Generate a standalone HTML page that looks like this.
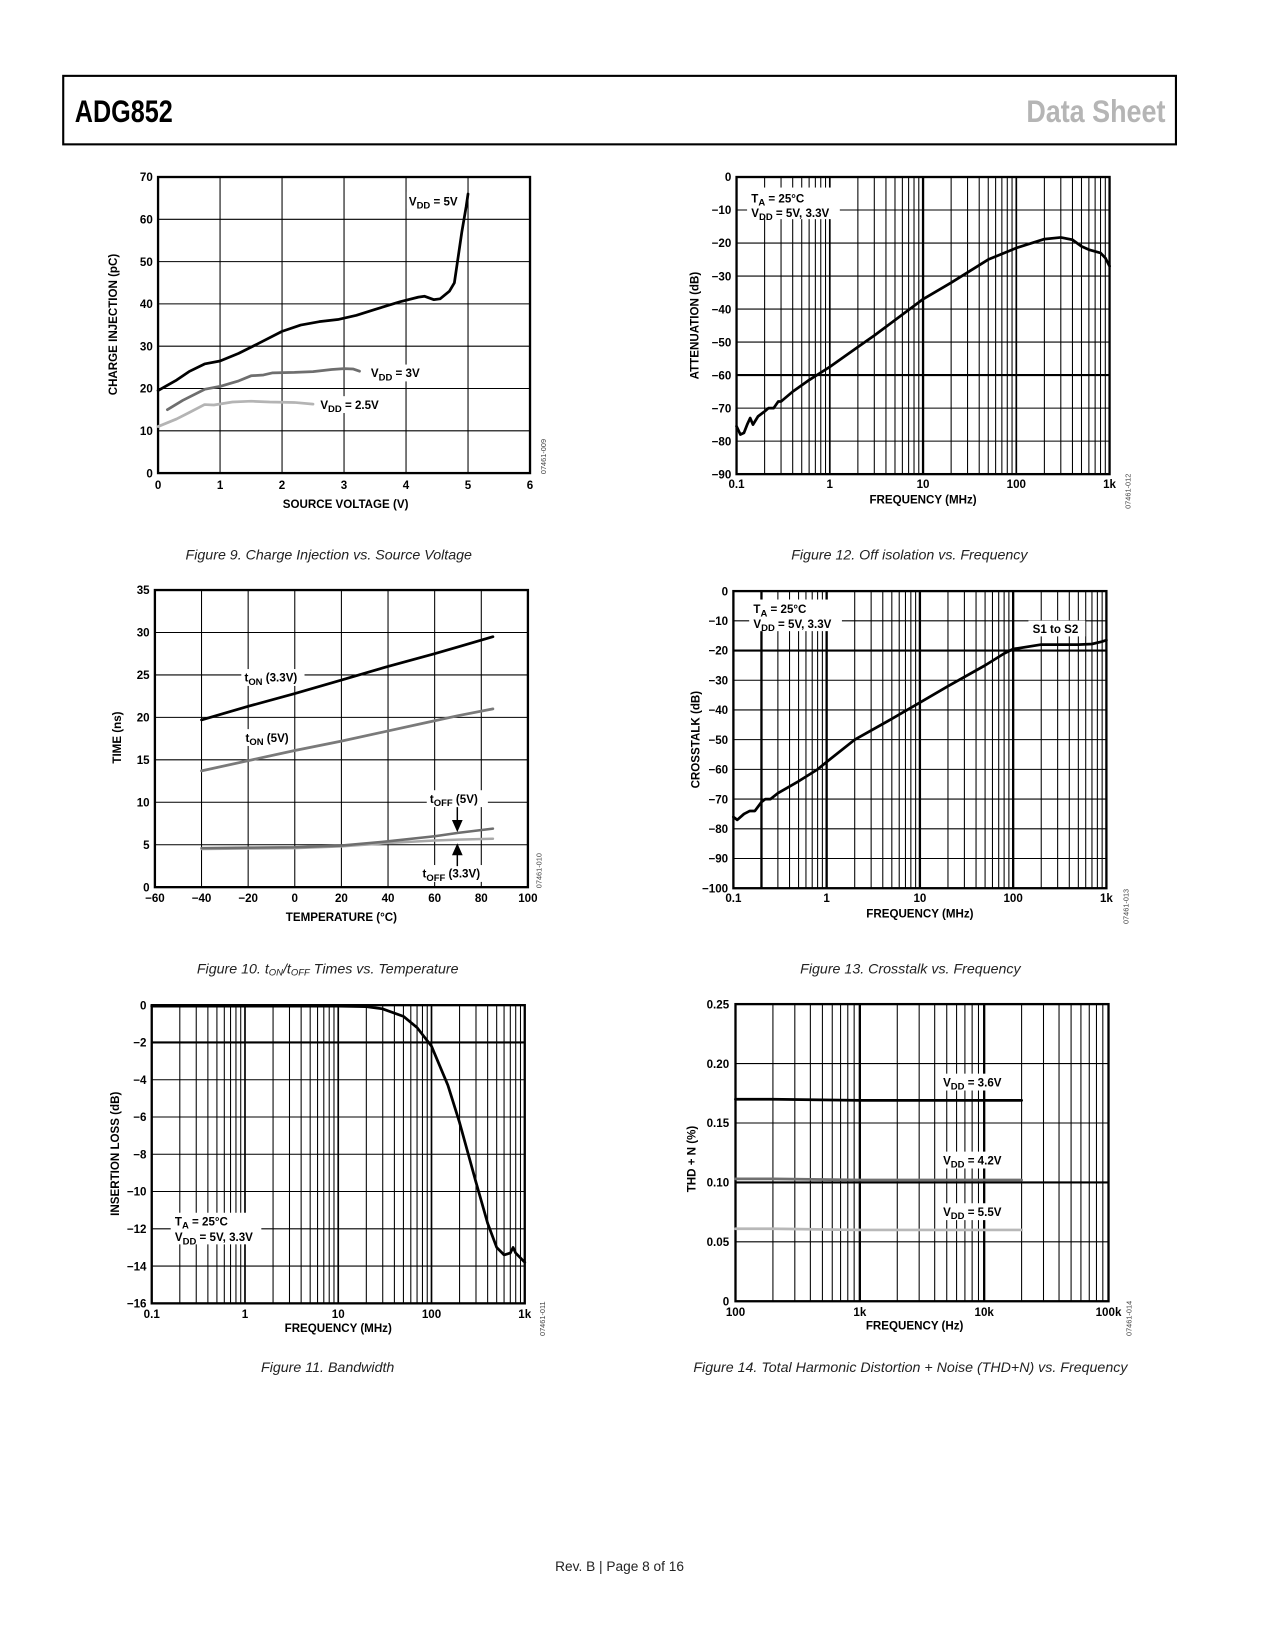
<!DOCTYPE html>
<html><head><meta charset="utf-8"><style>
html,body{margin:0;padding:0;background:#fff;}
svg{display:block;}
text{font-family:"Liberation Sans",Arial,sans-serif;}
.t{font-size:11px;font-weight:bold;fill:#000;}
.cap{font-size:13.5px;font-style:italic;fill:#222;}
.id{font-size:7px;fill:#444;}
</style></head><body>
<svg id="page" width="1275" height="1650" viewBox="0 0 1210 1566" preserveAspectRatio="none" xmlns="http://www.w3.org/2000/svg">
<rect x="0" y="0" width="1210" height="1566" fill="#fff"/>
<rect x="60" y="72" width="1056" height="65" fill="none" stroke="#000" stroke-width="2"/>
<text x="71" y="116" font-size="30" font-weight="bold" textLength="93" lengthAdjust="spacingAndGlyphs">ADG852</text>
<text x="1106" y="116" font-size="30" font-weight="bold" fill="#b5b5b5" text-anchor="end" textLength="132" lengthAdjust="spacingAndGlyphs">Data Sheet</text>
<g id="charts"></g>
<text class="cap" x="312" y="531" text-anchor="middle">Figure 9. Charge Injection vs. Source Voltage</text>
<text class="cap" x="311" y="924" text-anchor="middle">Figure 10. t<tspan font-size="9" dy="2">ON</tspan><tspan dy="-2">/t</tspan><tspan font-size="9" dy="2">OFF</tspan><tspan dy="-2"> Times vs. Temperature</tspan></text>
<text class="cap" x="311" y="1302" text-anchor="middle">Figure 11. Bandwidth</text>
<text class="cap" x="863" y="531" text-anchor="middle">Figure 12. Off isolation vs. Frequency</text>
<text class="cap" x="864" y="924" text-anchor="middle">Figure 13. Crosstalk vs. Frequency</text>
<text class="cap" x="864" y="1302" text-anchor="middle">Figure 14. Total Harmonic Distortion + Noise (THD+N) vs. Frequency</text>
<text x="588" y="1491" font-size="13" fill="#222" text-anchor="middle">Rev. B | Page 8 of 16</text>
</svg>
<script>
// ---------- Figure 9 data ----------
const f9XTicks = [0,1,2,3,4,5,6];
const f9YTicks = [0,10,20,30,40,50,60,70];
const f9V5x = [0,0.3,0.5,0.75,1,1.3,1.6,2,2.3,2.6,2.9,3.2,3.5,3.9,4.2,4.3,4.45,4.55,4.7,4.78,4.83,4.9,4.97,5.0];
const f9V5y = [19.5,22,24,25.8,26.5,28.3,30.5,33.5,35,35.8,36.3,37.3,38.7,40.5,41.6,41.8,41,41.2,43,45,50,57,63,66];
const f9V3x = [0.15,0.4,0.75,1,1.3,1.5,1.7,1.85,2.2,2.5,2.8,3.0,3.15,3.25];
const f9V3y = [15,17.2,19.8,20.5,21.8,23,23.2,23.7,23.8,24,24.5,24.7,24.6,24.1];
const f9V25x = [0,0.3,0.5,0.75,0.9,1.2,1.5,1.8,2.2,2.5];
const f9V25y = [11,12.8,14.3,16.2,16.1,16.8,17,16.8,16.7,16.3];
// ---------- Figure 10 data ----------
const f10XTicks = [-60,-40,-20,0,20,40,60,80,100];
const f10YTicks = [0,5,10,15,20,25,30,35];
const f10Temp = [-40,-20,0,20,40,60,70,85];
const f10TonV33 = [19.7,21.3,22.8,24.4,26,27.5,28.3,29.5];
const f10TonV5 = [13.7,14.9,16.1,17.2,18.4,19.6,20.2,21];
const f10ToffV5 = [4.6,4.65,4.7,4.9,5.4,6,6.4,6.9];
const f10ToffV33 = [4.5,4.55,4.6,4.8,5.2,5.5,5.6,5.7];
// ---------- Figure 11 data ----------
const f11XTicks = [0.1,1,10,100,1000];
const f11XLabels = ["0.1","1","10","100","1k"];
const f11YTicks = [0,-2,-4,-6,-8,-10,-12,-14,-16];
const f11Freq = [0.1,1,10,20,30,50,70,100,150,200,300,400,500,600,700,750,800,1000];
const f11Loss = [-0.05,-0.05,-0.05,-0.08,-0.2,-0.6,-1.2,-2.2,-4.3,-6.3,-9.5,-11.7,-13.0,-13.4,-13.3,-13.0,-13.3,-13.8];
// ---------- Figure 12 data ----------
const f12YTicks = [0,-10,-20,-30,-40,-50,-60,-70,-80,-90];
const f12Freq = [0.1,0.11,0.12,0.13,0.14,0.15,0.17,0.2,0.22,0.25,0.28,0.3,0.4,0.6,1,2,3,10,20,50,100,200,300,400,500,600,800,900,1000];
const f12Att = [-75.5,-78,-77.5,-75,-73,-75,-72.5,-71,-70,-70,-68,-68,-65,-61.5,-57.5,-51.5,-48,-37,-32,-25,-21.5,-18.8,-18.3,-19,-21,-22,-23,-24.5,-27];
// ---------- Figure 13 data ----------
const f13YTicks = [0,-10,-20,-30,-40,-50,-60,-70,-80,-90,-100];
const f13Freq = [0.1,0.11,0.13,0.15,0.17,0.2,0.22,0.25,0.3,0.5,0.8,1,2,5,10,20,50,80,100,200,500,700,900,1000];
const f13Xt = [-76,-77,-75,-74,-74,-71,-70,-70,-68,-64,-60,-57.5,-50,-43,-37.5,-32,-25,-21,-19.5,-18,-18,-17.8,-17,-16.5];
// ---------- Figure 14 data ----------
const f14XTicks = [100,1000,10000,100000];
const f14XLabels = ["100","1k","10k","100k"];
const f14YTicks = [0,0.05,0.10,0.15,0.20,0.25];
const f14YLabels = ["0","0.05","0.10","0.15","0.20","0.25"];
const f14Freq = [100,200,1000,5000,20000];
const f14V36 = [0.170,0.170,0.169,0.169,0.169];
const f14V42 = [0.103,0.103,0.102,0.102,0.102];
const f14V55 = [0.061,0.061,0.060,0.060,0.060];

const NS = "http://www.w3.org/2000/svg";
const root = document.getElementById('charts');
function el(tag, attrs, parent){
  const e = document.createElementNS(NS, tag);
  for (const k in attrs) e.setAttribute(k, attrs[k]);
  (parent||root).appendChild(e);
  return e;
}
function linScale(d0,d1,r0,r1){return v=>r0+(v-d0)/(d1-d0)*(r1-r0);}
function logScale(d0,d1,r0,r1){const a=Math.log10(d0),b=Math.log10(d1);return v=>r0+(Math.log10(v)-a)/(b-a)*(r1-r0);}

function frame(g,L,T,R,B){
  const r = el('rect',{x:L,y:T,width:R-L,height:B-T,fill:'none',stroke:'#000','stroke-width':2.2},g);
  
  
}
function hline(g,x1,x2,y,w){
  const l = el('line',{x1:x1,x2:x2,y1:y,y2:y,stroke:'#000','stroke-width':w||1},g);
  
  
}
function vline(g,x,y1,y2,w){
  const l = el('line',{x1:x,x2:x,y1:y1,y2:y2,stroke:'#000','stroke-width':w||1},g);
  
  
}
function label(g,x,y,txt,anchor,name,cls){
  const t = el('text',{x:x,y:y,'text-anchor':anchor||'middle','class':cls||'t'},g);
  t.textContent = txt;
  
  
  return t;
}
function ytitle(g,x,y,txt){
  const t = el('text',{x:x,y:y,'text-anchor':'middle','class':'t',transform:'rotate(-90 '+x+' '+y+')'},g);
  t.textContent = txt;
  
  
}
function figId(g,x,y,txt){
  const t = el('text',{x:x,y:y,'text-anchor':'start','class':'id',transform:'rotate(-90 '+x+' '+y+')'},g);
  t.textContent = txt;
  
  
}
function series(g,xs,ys,sx,sy,color,w,name){
  const d = xs.map((v,i)=>(i?'L':'M')+sx(v).toFixed(2)+' '+sy(ys[i]).toFixed(2)).join(' ');
  const p = el('path',{d:d,fill:'none',stroke:color,'stroke-width':w||2.6,'stroke-linejoin':'round','stroke-linecap':'round'},g);
  
  
}
function logGrid(g,sx,d0,d1,T,B,heavy){
  for(let dec=d0; dec<d1; dec*=10){
    for(let m=2;m<=9;m++){const v=dec*m; vline(g,sx(v),T,B,(heavy&&heavy.indexOf(v)>=0)?2.2:1);}
    if(dec>d0) vline(g,sx(dec),T,B,(heavy&&heavy.indexOf(dec)>=0)?2.2:1.6);
  }
}
function sub(g,x,y,main,subs,rest,anchor,name,bg){
  const t = el('text',{x:x,y:y,'class':'t','text-anchor':anchor||'start'},g);
  
  
  const a = el('tspan',{},t); a.textContent = main;
  const b = el('tspan',{dy:3,'font-size':9},t); b.textContent = subs;
  const c = el('tspan',{dy:-3},t); c.textContent = rest;
  return t;
}
function whiteBox(g,x,y,w,h){
  const r = el('rect',{x:x,y:y,width:w,height:h,fill:'#fff'},g);
  
  
}

// ===== Figure 9 =====
(function(){
  const g = el('g',{});  
  const L=150,R=503,T=168,B=449;
  const sx=linScale(0,6,L,R), sy=linScale(0,70,B,T);
  f9XTicks.forEach(v=>{vline(g,sx(v),T,B); label(g,sx(v),464,String(v));});
  f9YTicks.forEach(v=>{hline(g,L,R,sy(v)); label(g,L-5,sy(v)+4,String(v),'end');});
  frame(g,L,T,R,B);
  whiteBox(g,386,182,56,16); whiteBox(g,350,346,58,16); whiteBox(g,302,376,62,16);
  series(g,f9V25x,f9V25y,sx,sy,'#b4b4b4',2.6,'series-vdd-2.5v');
  series(g,f9V3x,f9V3y,sx,sy,'#6e6e6e',2.6,'series-vdd-3v');
  series(g,f9V5x,f9V5y,sx,sy,'#000',2.6,'series-vdd-5v');
  sub(g,388,195,'V','DD',' = 5V','start','label-vdd-5v');
  sub(g,352,358,'V','DD',' = 3V','start','label-vdd-3v');
  sub(g,304,388,'V','DD',' = 2.5V','start','label-vdd-2.5v');
  label(g,328,482,'SOURCE VOLTAGE (V)','middle','x-axis-title');
  ytitle(g,111,308,'CHARGE INJECTION (pC)');
  figId(g,518,450,'07461-009');
})();

// ===== Figure 10 =====
(function(){
  const g = el('g',{});  
  const L=147,R=501,T=560,B=842;
  const sx=linScale(-60,100,L,R), sy=linScale(0,35,B,T);
  f10XTicks.forEach(v=>{vline(g,sx(v),T,B); label(g,sx(v),856,(v<0?'\u2212'+(-v):String(v)));});
  f10YTicks.forEach(v=>{hline(g,L,R,sy(v)); label(g,L-5,sy(v)+4,String(v),'end');});
  frame(g,L,T,R,B);
  whiteBox(g,229,635,60,16); whiteBox(g,230,692,48,16); whiteBox(g,405,750,58,16); whiteBox(g,398,821,64,16);
  series(g,f10Temp,f10ToffV33,sx,sy,'#a8a8a8',2.4,'series-toff-3.3v');
  series(g,f10Temp,f10ToffV5,sx,sy,'#6e6e6e',2.4,'series-toff-5v');
  series(g,f10Temp,f10TonV5,sx,sy,'#7a7a7a',2.6,'series-ton-5v');
  series(g,f10Temp,f10TonV33,sx,sy,'#000',2.6,'series-ton-3.3v');
  sub(g,232,647,'t','ON',' (3.3V)','start','label-ton-3.3v');
  sub(g,233,704,'t','ON',' (5V)','start','label-ton-5v');
  sub(g,408,762,'t','OFF',' (5V)','start','label-toff-5v');
  sub(g,401,833,'t','OFF',' (3.3V)','start','label-toff-3.3v');
  const a1 = el('path',{d:'M434 766 L434 784 M430 779 L434 788 L438 779 Z',stroke:'#000','stroke-width':1.4,fill:'#000'},g);
   
  const a2 = el('path',{d:'M434 822 L434 806 M430 811 L434 802 L438 811 Z',stroke:'#000','stroke-width':1.4,fill:'#000'},g);
   
  label(g,324,874,'TEMPERATURE (\u00B0C)','middle','x-axis-title');
  ytitle(g,115,700,'TIME (ns)');
  figId(g,514,843,'07461-010');
})();

// ===== Figure 11 =====
(function(){
  const g = el('g',{});  
  const L=144,R=498,T=954,B=1237;
  const sx=logScale(0.1,1000,L,R), sy=linScale(0,-16,T,B);
  logGrid(g,sx,0.1,1000,T,B,[]);
  f11YTicks.forEach(v=>{hline(g,L,R,sy(v),v===-2?2:1); label(g,L-5,sy(v)+4,(v<0?'\u2212'+(-v):String(v)),'end');});
  f11XTicks.forEach((v,i)=>label(g,sx(v),1251,f11XLabels[i]));
  frame(g,L,T,R,B);
  whiteBox(g,162,1151,86,30);
  series(g,f11Freq,f11Loss,sx,sy,'#000',2.6,'series-insertion-loss');
  sub(g,166,1163,'T','A',' = 25\u00B0C','start','annotation-ta');
  sub(g,166,1178,'V','DD',' = 5V, 3.3V','start','annotation-vdd');
  label(g,321,1264,'FREQUENCY (MHz)','middle','x-axis-title');
  ytitle(g,113,1095,'INSERTION LOSS (dB)');
  figId(g,517,1268,'07461-011');
})();

// ===== Figure 12 =====
(function(){
  const g = el('g',{});  
  const L=699,R=1053,T=168,B=450;
  const sx=logScale(0.1,1000,L,R), sy=linScale(0,-90,T,B);
  logGrid(g,sx,0.1,1000,T,B,[10]);
  f12YTicks.forEach(v=>{hline(g,L,R,sy(v),v===-60?2:1); label(g,L-5,sy(v)+4,(v<0?'\u2212'+(-v):String(v)),'end');});
  f11XTicks.forEach((v,i)=>label(g,sx(v),463,f11XLabels[i]));
  frame(g,L,T,R,B);
  whiteBox(g,709,178,88,30);
  series(g,f12Freq,f12Att,sx,sy,'#000',2.6,'series-off-isolation');
  sub(g,713,192,'T','A',' = 25\u00B0C','start','annotation-ta');
  sub(g,713,206,'V','DD',' = 5V, 3.3V','start','annotation-vdd');
  label(g,876,478,'FREQUENCY (MHz)','middle','x-axis-title');
  ytitle(g,663,309,'ATTENUATION (dB)');
  figId(g,1073,483,'07461-012');
})();

// ===== Figure 13 =====
(function(){
  const g = el('g',{});  
  const L=696,R=1050,T=561,B=843;
  const sx=logScale(0.1,1000,L,R), sy=linScale(0,-100,T,B);
  logGrid(g,sx,0.1,1000,T,B,[0.2,1,10,100]);
  f13YTicks.forEach(v=>{hline(g,L,R,sy(v),v===-20?2:1); label(g,L-5,sy(v)+4,(v<0?'\u2212'+(-v):String(v)),'end');});
  f11XTicks.forEach((v,i)=>label(g,sx(v),856,f11XLabels[i]));
  frame(g,L,T,R,B);
  whiteBox(g,711,569,88,30); whiteBox(g,976,589,54,15);
  series(g,f13Freq,f13Xt,sx,sy,'#000',2.6,'series-crosstalk');
  sub(g,715,582,'T','A',' = 25\u00B0C','start','annotation-ta');
  sub(g,715,596,'V','DD',' = 5V, 3.3V','start','annotation-vdd');
  label(g,980,601,'S1 to S2','start','label-s1-to-s2');
  label(g,873,871,'FREQUENCY (MHz)','middle','x-axis-title');
  ytitle(g,664,702,'CROSSTALK (dB)');
  figId(g,1071,877,'07461-013');
})();

// ===== Figure 14 =====
(function(){
  const g = el('g',{});  
  const L=698,R=1052,T=953,B=1235;
  const sx=logScale(100,100000,L,R), sy=linScale(0,0.25,B,T);
  logGrid(g,sx,100,100000,T,B,[1000,10000]);
  f14YTicks.forEach((v,i)=>{hline(g,L,R,sy(v),Math.abs(v-0.10)<1e-9?2:1); label(g,L-6,sy(v)+4,f14YLabels[i],'end');});
  f14XTicks.forEach((v,i)=>label(g,sx(v),1249,f14XLabels[i]));
  frame(g,L,T,R,B);
  whiteBox(g,892,1019,62,16); whiteBox(g,892,1093,62,16); whiteBox(g,892,1142,62,16);
  series(g,f14Freq,f14V55,sx,sy,'#b8b8b8',2.6,'series-vdd-5.5v');
  series(g,f14Freq,f14V42,sx,sy,'#707070',2.6,'series-vdd-4.2v');
  series(g,f14Freq,f14V36,sx,sy,'#000',2.6,'series-vdd-3.6v');
  sub(g,895,1031,'V','DD',' = 3.6V','start','label-vdd-3.6v');
  sub(g,895,1105,'V','DD',' = 4.2V','start','label-vdd-4.2v');
  sub(g,895,1154,'V','DD',' = 5.5V','start','label-vdd-5.5v');
  label(g,868,1262,'FREQUENCY (Hz)','middle','x-axis-title');
  ytitle(g,660,1100,'THD + N (%)');
  figId(g,1074,1268,'07461-014');
})();
</script>
</body></html>
